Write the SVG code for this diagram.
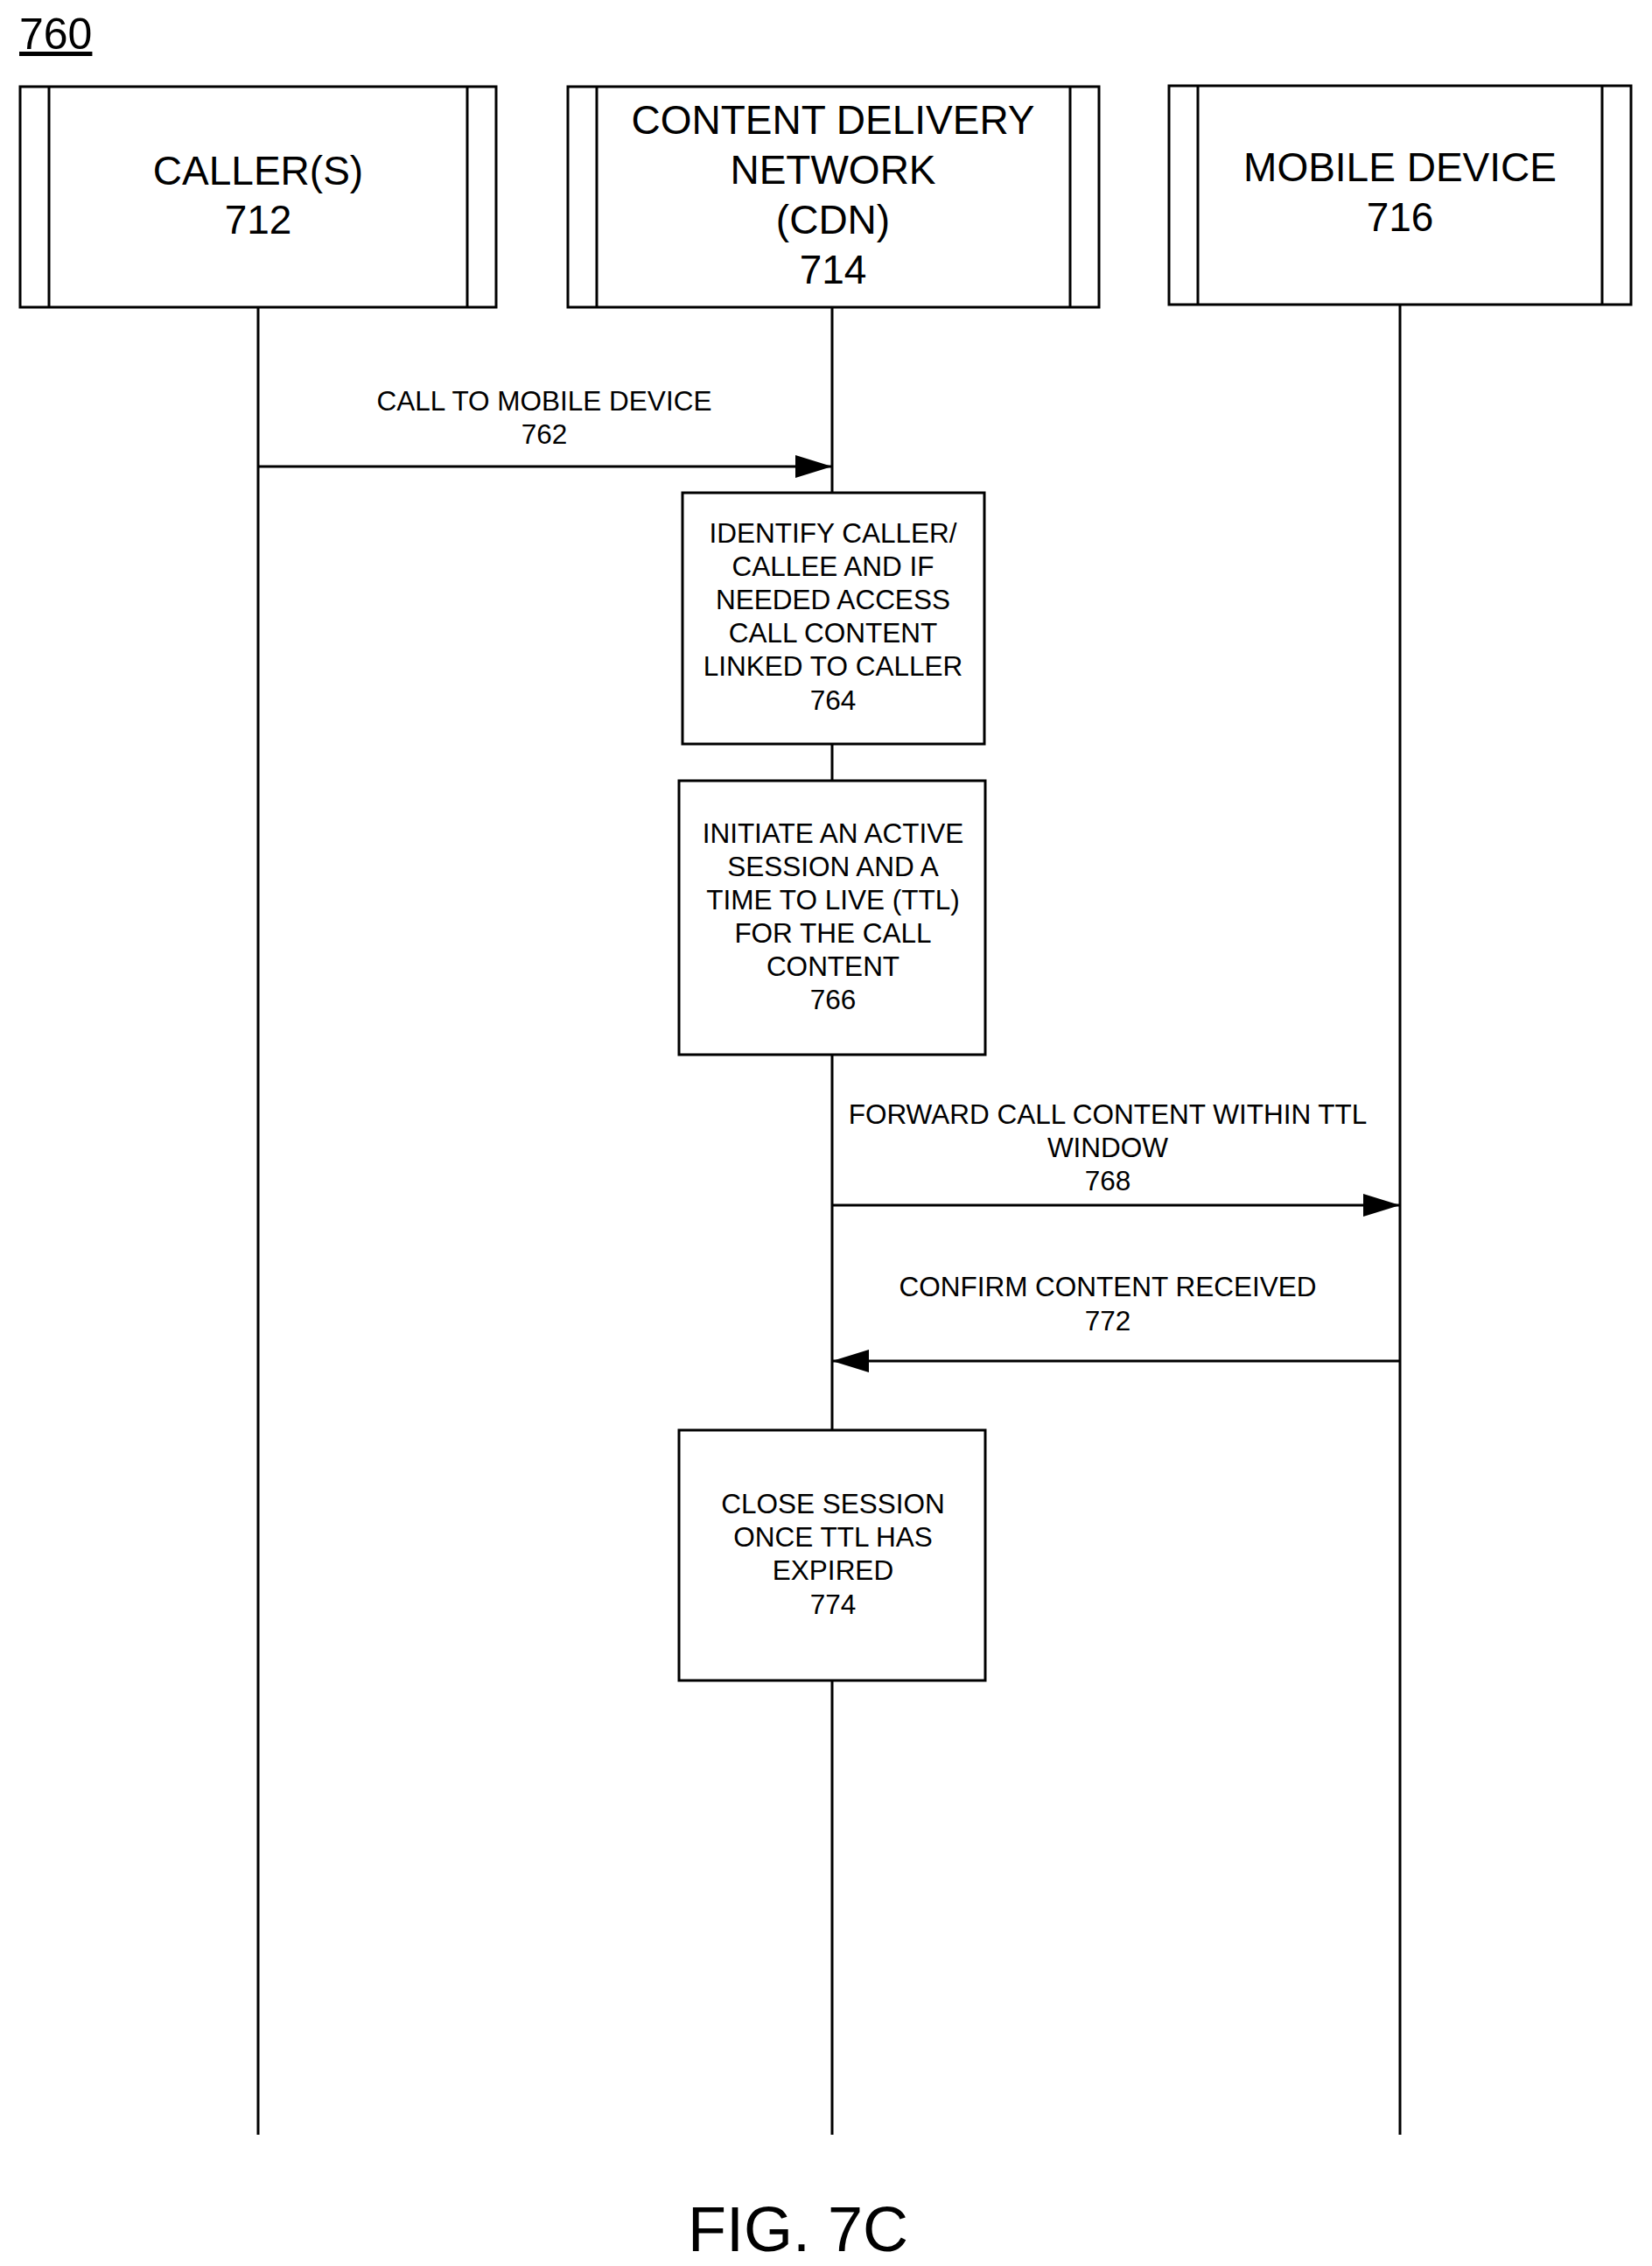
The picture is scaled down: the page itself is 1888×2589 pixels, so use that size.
<svg xmlns="http://www.w3.org/2000/svg" width="1888" height="2589" viewBox="0 0 1888 2589">
<defs>
<style>
.b{fill:#fff;stroke:#000;stroke-width:3}
.l{stroke:#000;stroke-width:3;fill:none}
.h{font-family:"Liberation Sans",Arial,sans-serif;font-size:46px;text-anchor:middle}
.s{font-family:"Liberation Sans",Arial,sans-serif;font-size:31.5px;text-anchor:middle}
</style>
<marker id="ah" markerWidth="42" markerHeight="26" refX="42" refY="13" orient="auto" markerUnits="userSpaceOnUse"><path d="M0,0L42,13L0,26z"/></marker>
</defs>
<rect width="1888" height="2589" fill="#fff"/>
<text x="22" y="56" font-family="Liberation Sans,Arial,sans-serif" font-size="50" text-decoration="underline">760</text>
<g id="lifelines">
<line class="l" x1="295" y1="351" x2="295" y2="2439"/>
<line class="l" x1="951" y1="351" x2="951" y2="2439"/>
<line class="l" x1="1600" y1="348" x2="1600" y2="2439"/>
</g>
<g id="caller"><rect class="b" x="23" y="99" width="544" height="252"/><line class="l" x1="56" y1="99" x2="56" y2="351"/><line class="l" x1="534" y1="99" x2="534" y2="351"/>
<text class="h" x="295" y="211">CALLER(S)</text><text class="h" x="295" y="267">712</text></g>
<g id="cdn"><rect class="b" x="649" y="99" width="607" height="252"/><line class="l" x1="682" y1="99" x2="682" y2="351"/><line class="l" x1="1223" y1="99" x2="1223" y2="351"/>
<text class="h" x="952" y="153">CONTENT DELIVERY</text><text class="h" x="952" y="210">NETWORK</text><text class="h" x="952" y="267">(CDN)</text><text class="h" x="952" y="324">714</text></g>
<g id="mobile"><rect class="b" x="1336" y="98" width="528" height="250"/><line class="l" x1="1369" y1="98" x2="1369" y2="348"/><line class="l" x1="1831" y1="98" x2="1831" y2="348"/>
<text class="h" x="1600" y="207">MOBILE DEVICE</text><text class="h" x="1600" y="264">716</text></g>
<g id="n764"><rect class="b" x="780" y="563" width="345" height="287"/>
<text class="s" x="952" y="620">IDENTIFY CALLER/</text><text class="s" x="952" y="658">CALLEE AND IF</text><text class="s" x="952" y="696">NEEDED ACCESS</text><text class="s" x="952" y="734">CALL CONTENT</text><text class="s" x="952" y="772">LINKED TO CALLER</text><text class="s" x="952" y="811">764</text></g>
<g id="n766"><rect class="b" x="776" y="892" width="350" height="313"/>
<text class="s" x="952" y="963">INITIATE AN ACTIVE</text><text class="s" x="952" y="1001">SESSION AND A</text><text class="s" x="952" y="1039">TIME TO LIVE (TTL)</text><text class="s" x="952" y="1077">FOR THE CALL</text><text class="s" x="952" y="1115">CONTENT</text><text class="s" x="952" y="1153">766</text></g>
<g id="n774"><rect class="b" x="776" y="1634" width="350" height="286"/>
<text class="s" x="952" y="1729">CLOSE SESSION</text><text class="s" x="952" y="1767">ONCE TTL HAS</text><text class="s" x="952" y="1805">EXPIRED</text><text class="s" x="952" y="1844">774</text></g>
<g id="connectors">
<line class="l" x1="295" y1="533" x2="951" y2="533" marker-end="url(#ah)"/>
<line class="l" x1="951" y1="1377" x2="1600" y2="1377" marker-end="url(#ah)"/>
<line class="l" x1="1600" y1="1555" x2="951" y2="1555" marker-end="url(#ah)"/>
</g>
<g id="labels">
<text class="s" x="622" y="469">CALL TO MOBILE DEVICE</text><text class="s" x="622" y="507">762</text>
<text class="s" x="1266" y="1284">FORWARD CALL CONTENT WITHIN TTL</text><text class="s" x="1266" y="1322">WINDOW</text><text class="s" x="1266" y="1360">768</text>
<text class="s" x="1266" y="1481">CONFIRM CONTENT RECEIVED</text><text class="s" x="1266" y="1520">772</text>
</g>
<text x="912" y="2572" font-family="Liberation Sans,Arial,sans-serif" font-size="72" text-anchor="middle">FIG. 7C</text>
</svg>
